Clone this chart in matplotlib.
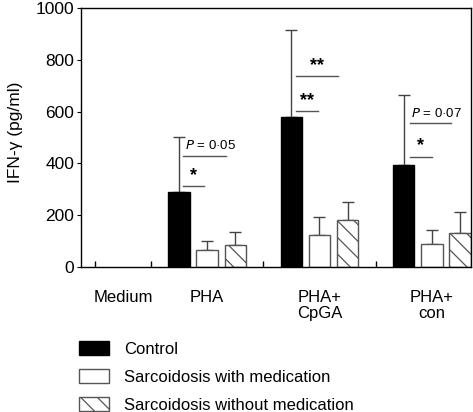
import matplotlib
matplotlib.use('Agg')
import matplotlib.pyplot as plt
import numpy as np

plt.rcParams['font.family'] = ['Liberation Sans', 'DejaVu Sans']
plt.rcParams['hatch.linewidth'] = 0.9
plt.rcParams['hatch.color'] = 'black'

GROUPS = ['Medium', 'PHA', 'PHA+\nCpGA', 'PHA+\ncon']
SERIES = ['Control', 'Sarcoidosis with medication', 'Sarcoidosis without medication']
# Medium has no detectable response (bars at 0)
MEANS = {
    'Control':                        [0, 290, 578, 394],
    'Sarcoidosis with medication':    [0, 65, 121, 89],
    'Sarcoidosis without medication': [0, 84, 180, 132],
}
ERR_TOP = {
    'Control':                        [0, 503, 916, 666],
    'Sarcoidosis with medication':    [0, 100, 191, 142],
    'Sarcoidosis without medication': [0, 134, 250, 210],
}
STYLE = {
    'Control': dict(color='black', edgecolor='black', hatch=None),
    'Sarcoidosis with medication': dict(color='white', edgecolor='#555555', hatch=None),
    'Sarcoidosis without medication': dict(color='white', edgecolor='#555555', hatch='\\\\'),
}

fig = plt.figure(figsize=(4.73, 4.12), dpi=100)
ax = fig.add_axes([0.1712, 0.3527, 0.8246, 0.6272])

group_start = np.array([-4, 0, 4, 8])
width = 0.77
handles = []
for i, s in enumerate(SERIES):
    x = group_start[1:] + i
    means = np.array(MEANS[s][1:])
    tops = np.array(ERR_TOP[s][1:])
    st = STYLE[s]
    b = ax.bar(x, means, width=width, color=st['color'], edgecolor=st['edgecolor'],
               hatch=st['hatch'], linewidth=1.0, zorder=2, label=s)
    ax.errorbar(x, means, yerr=[np.zeros_like(means), tops - means], fmt='none',
                ecolor='#444444', elinewidth=1.0, capsize=4, capthick=1.0, zorder=1)
    handles.append(b)

# significance marks: (x0, x1, y, text)
SIG = [
    (0.15, 1.68, 430, '$P$ = 0·05'),
    (0.15, 0.90, 313, '*'),
    (4.18, 5.66, 737, '**'),
    (4.18, 4.95, 601, '**'),
    (8.22, 9.67, 557, '$P$ = 0·07'),
    (8.22, 9.00, 426, '*'),
]
for x0, x1, y, t in SIG:
    ax.plot([x0, x1], [y, y], color='#555555', lw=1.0)
    if t.startswith('$P$'):
        ax.text(x0 + 0.05, y + 12, t, ha='left', va='bottom', fontsize=9.5)
    else:
        ax.text((x0 + x1) / 2, y + 8, t, ha='center', va='bottom', fontsize=13,
                fontweight='bold')

ax.set_xlim(-3.5, 10.4)
ax.set_ylim(0, 1000)
ax.set_yticks([0, 200, 400, 600, 800, 1000])
ax.tick_params(axis='y', direction='out', length=3, labelsize=12.5, pad=2)
ax.set_xticks([-2, 1, 5, 9])
ax.set_xticklabels(GROUPS, fontsize=12, linespacing=1.05)
ax.tick_params(axis='x', length=0, pad=17)
ax.set_xticks([-3, -2, -1, 3, 7], minor=True)
ax.tick_params(axis='x', which='minor', direction='in', length=4, width=1.0)
for sp in ax.spines.values():
    sp.set_linewidth(1.0)
ax.set_ylabel('IFN-γ (pg/ml)', fontsize=12.5)
ax.yaxis.set_label_coords(-0.148, 0.52)

fig.legend(handles=handles, labels=SERIES, loc='upper left',
           bbox_to_anchor=(79 / 473, 1 - 341 / 412), frameon=False, fontsize=12,
           handlelength=1.8, handleheight=0.95, handletextpad=0.9,
           labelspacing=0.72, borderpad=0, borderaxespad=0)

fig.savefig('out.png', dpi=100)
